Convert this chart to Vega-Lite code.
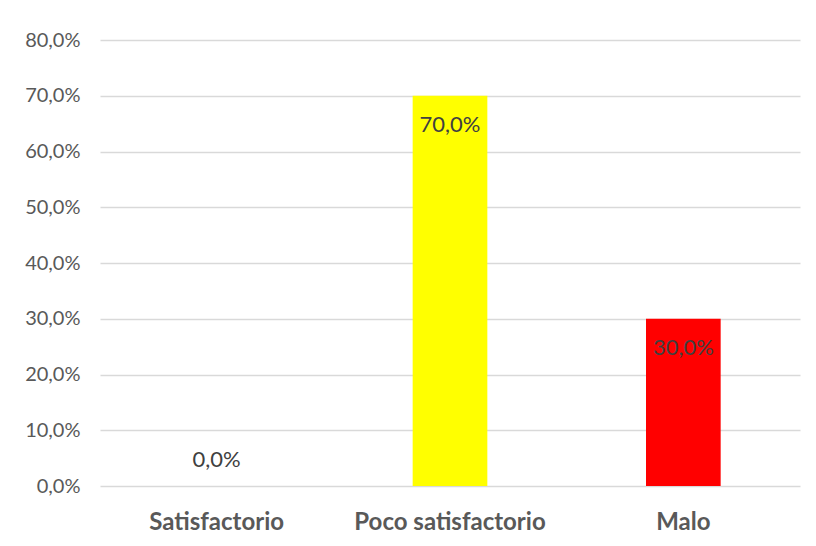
{
  "$schema": "https://vega.github.io/schema/vega-lite/v6.json",
  "width": 700,
  "height": 446,
  "autosize": {"type": "none"},
  "padding": {"left": 100, "top": 40, "right": 16, "bottom": 60},
  "background": "white",
  "config": {
    "view": {"stroke": null},
    "font": "Lato",
    "locale": {"number": {"decimal": ",", "thousands": ".", "grouping": [3], "currency": ["", " €"]}}
  },
  "data": {
    "values": [
      {"categoria": "Satisfactorio", "valor": 0.0, "color": "#4472C4"},
      {"categoria": "Poco satisfactorio", "valor": 0.7, "color": "#FFFF00"},
      {"categoria": "Malo", "valor": 0.3, "color": "#FF0000"}
    ]
  },
  "encoding": {
    "x": {
      "field": "categoria",
      "type": "nominal",
      "sort": null,
      "scale": {"paddingInner": 0.68, "paddingOuter": 0.34},
      "axis": {
        "title": null,
        "labelAngle": 0,
        "domain": false,
        "ticks": false,
        "tickSize": 0,
        "labelFont": "Lato",
        "labelFontWeight": "bold",
        "labelFontSize": 24,
        "labelColor": "#595959",
        "labelBaseline": "alphabetic",
        "labelPadding": 43,
        "labelLimit": 400,
        "labelOverlap": false
      }
    },
    "y": {
      "field": "valor",
      "type": "quantitative",
      "scale": {"domain": [0, 0.8], "nice": false},
      "axis": {
        "title": null,
        "values": [0, 0.1, 0.2, 0.3, 0.4, 0.5, 0.6, 0.7, 0.8],
        "format": ".1%",
        "domain": false,
        "ticks": false,
        "tickSize": 0,
        "grid": true,
        "gridColor": "#d9d9d9",
        "gridWidth": 1.3,
        "labelFont": "Lato",
        "labelFontSize": 20,
        "labelColor": "#595959",
        "labelPadding": 20
      }
    }
  },
  "layer": [
    {
      "mark": {"type": "bar"},
      "encoding": {
        "color": {"field": "color", "type": "nominal", "scale": null}
      }
    },
    {
      "transform": [{"filter": "datum.valor > 0"}],
      "mark": {"type": "text", "baseline": "alphabetic", "dy": 36, "fontSize": 22, "color": "#404040", "font": "Lato"},
      "encoding": {"text": {"field": "valor", "type": "quantitative", "format": ".1%"}}
    },
    {
      "transform": [{"filter": "datum.valor == 0"}],
      "mark": {"type": "text", "baseline": "alphabetic", "dy": -19, "fontSize": 22, "color": "#404040", "font": "Lato"},
      "encoding": {"text": {"field": "valor", "type": "quantitative", "format": ".1%"}}
    }
  ]
}
